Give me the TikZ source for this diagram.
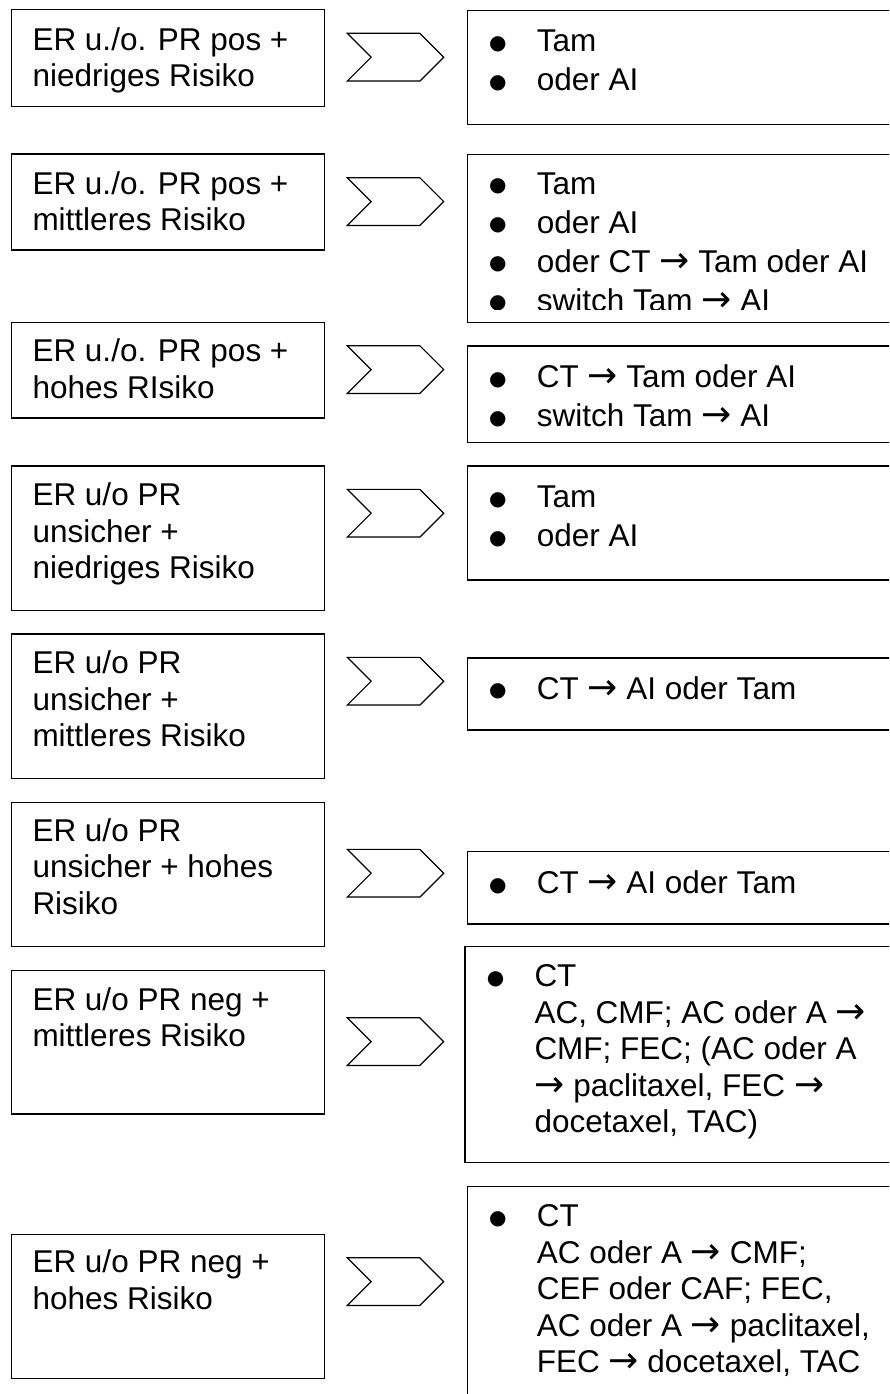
\documentclass[tikz,border=0pt]{standalone}
\usepackage{fontspec}
\setmainfont{Liberation Sans}
\newfontfamily\arrfont{DejaVu Sans}
\usetikzlibrary{shapes.symbols}
\newcommand\txtsize{\fontsize{31.5pt}{36.5pt}\selectfont}
\newcommand\fl{\rule{0pt}{25pt}}
\newcommand\bul{\fl\makebox[50.2pt][l]{\hspace{2.5pt}\raisebox{2.5pt}{\arrfont\fontsize{20pt}{20pt}\selectfont ●}}}
\newcommand\ind{\hspace*{50.2pt}}
\newcommand\ar{{\arrfont\fontsize{36pt}{36pt}\selectfont →}}
\tikzset{
  boxbase/.style={draw, line width=1.2pt, rectangle, anchor=north west, inner sep=0pt},
  lbox/.style={boxbase, minimum width=313pt},
  rbox/.style={boxbase, minimum width=440pt},
  ltext/.style={anchor=north west, yshift=25pt, align=left, inner sep=0pt, font=\txtsize},
  chev/.style={draw, line width=1.2pt, signal, signal to=east, signal from=west,
    signal pointer angle=90, minimum width=96.4pt, minimum height=47.7pt, inner sep=0pt},
}
\begin{document}
\begin{tikzpicture}[x=1pt,y=-1pt]
\useasboundingbox (0,0) rectangle (889,1394);
\clip (0,0) rectangle (889,1394);
% left boxes
\node[lbox, minimum height=96.7pt] (L1) at (11,9.3) {};
\node[lbox, minimum height=96pt] (L2) at (11,153.3) {};
\node[lbox, minimum height=95.6pt] (L3) at (11,321.7) {};
\node[lbox, minimum height=144.7pt] (L4) at (11,465.3) {};
\node[lbox, minimum height=144.4pt] (L5) at (11,633.3) {};
\node[lbox, minimum height=144pt] (L6) at (11,801.7) {};
\node[lbox, minimum height=143.3pt] (L7) at (11,970) {};
\node[lbox, minimum height=144pt] (L8) at (11,1233.7) {};
\node[ltext] (L1t) at (32.3,50) {\fl ER u./o. PR pos +\\niedriges Risiko};
\node[ltext] (L2t) at (32.3,194) {\fl ER u./o. PR pos +\\mittleres Risiko};
\node[ltext] (L3t) at (32.3,361.7) {\fl ER u./o. PR pos +\\hohes RIsiko};
\node[ltext] (L4t) at (32.3,505.7) {\fl ER u/o PR\\unsicher +\\niedriges Risiko};
\node[ltext] (L5t) at (32.3,673.3) {\fl ER u/o PR\\unsicher +\\mittleres Risiko};
\node[ltext] (L6t) at (32.3,841) {\fl ER u/o PR\\unsicher + hohes\\Risiko};
\node[ltext] (L7t) at (32.3,1010) {\fl ER u/o PR neg +\\mittleres Risiko};
\node[ltext] (L8t) at (32.3,1272.7) {\fl ER u/o PR neg +\\hohes Risiko};
% chevrons
\node[chev] (C1) at (395.5,57.2) {};
\node[chev] (C2) at (395.5,201.6) {};
\node[chev] (C3) at (395.5,369.6) {};
\node[chev] (C4) at (395.5,513.2) {};
\node[chev] (C5) at (395.5,681.2) {};
\node[chev] (C6) at (395.5,873.2) {};
\node[chev] (C7) at (395.5,1041.6) {};
\node[chev] (C8) at (395.5,1281.6) {};
% right boxes
\node[rbox, minimum height=114pt] (R1) at (467,9.7) {};
\node[rbox, minimum height=168pt] (R2) at (467,153.7) {};
\node[rbox, minimum height=96.4pt] (R3) at (467,345.3) {};
\node[rbox, minimum height=114pt] (R4) at (467,465.3) {};
\node[rbox, minimum height=72pt] (R5) at (467,657.3) {};
\node[rbox, minimum height=72.3pt] (R6) at (467,851) {};
\node[rbox, minimum height=216pt, minimum width=445pt] (R7) at (464.3,945.7) {};
\node[rbox, minimum height=260pt] (R8) at (467,1185.7) {};
\node[ltext] (R1t) at (486.4,51.7) {\bul Tam\\[2.5pt]\bul oder AI};
\begin{scope}
\clip (467,153.7) rectangle (889,309.5);
\node[ltext] (R2t) at (486.4,194) {\bul Tam\\[2.5pt]\bul oder AI\\[2.5pt]\bul oder CT \ar{} Tam oder AI\\[2.5pt]\bul switch Tam \ar{} AI};
\end{scope}
\node[ltext] (R3t) at (486.4,387.3) {\bul CT \ar{} Tam oder AI\\[2.5pt]\bul switch Tam \ar{} AI};
\node[ltext] (R4t) at (486.4,507.7) {\bul Tam\\[2.5pt]\bul oder AI};
\node[ltext] (R5t) at (486.4,699) {\bul CT \ar{} AI oder Tam};
\node[ltext] (R6t) at (486.4,893.3) {\bul CT \ar{} AI oder Tam};
\node[ltext] (R7t) at (484.1,986.7) {\bul CT\\\ind AC, CMF; AC oder A \ar\\\ind CMF; FEC; (AC oder A\\\ind \ar{} paclitaxel, FEC \ar\\\ind docetaxel, TAC)};
\node[ltext] (R8t) at (486.4,1226.7) {\bul CT\\\ind AC oder A \ar{} CMF;\\\ind CEF oder CAF; FEC,\\\ind AC oder A \ar{} paclitaxel,\\\ind FEC \ar{} docetaxel, TAC};
\end{tikzpicture}
\end{document}
